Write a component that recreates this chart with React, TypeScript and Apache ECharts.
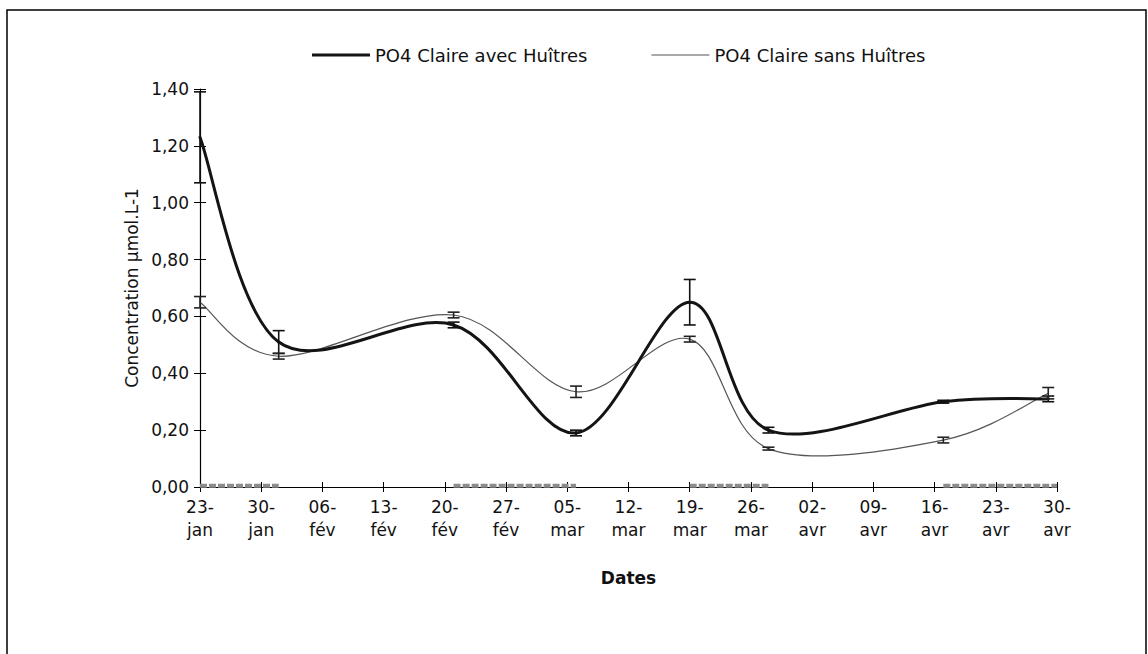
import React, { useEffect, useRef } from "react";
import * as echarts from "echarts";

// Sampling dates (leap year: 27-fév + 7 days = 05-mar)
const sampleDates = [
  "2008-01-23",
  "2008-02-01",
  "2008-02-21",
  "2008-03-06",
  "2008-03-19",
  "2008-03-28",
  "2008-04-17",
  "2008-04-29",
];

// PO4 concentrations (µmol.L-1) and half-width of the error bars
const avecValues = [1.23, 0.51, 0.57, 0.19, 0.65, 0.2, 0.3, 0.31];
const avecErrors = [0.16, 0.04, 0.01, 0.01, 0.08, 0.01, 0.005, 0.01];
const sansValues = [0.65, 0.46, 0.605, 0.335, 0.52, 0.135, 0.165, 0.33];
const sansErrors = [0.02, 0.01, 0.01, 0.02, 0.01, 0.005, 0.01, 0.02];

// Periods marked along the date axis
const periodStarts = ["2008-01-23", "2008-02-21", "2008-03-19", "2008-04-17"];
const periodEnds = ["2008-02-01", "2008-03-06", "2008-03-28", "2008-04-30"];

const xTickLabels = [
  "23-\njan", "30-\njan", "06-\nfév", "13-\nfév", "20-\nfév",
  "27-\nfév", "05-\nmar", "12-\nmar", "19-\nmar", "26-\nmar",
  "02-\navr", "09-\navr", "16-\navr", "23-\navr", "30-\navr",
];

const seriesNames = ["PO4 Claire avec Huîtres", "PO4 Claire sans Huîtres"];

const DAY_MS = 86400000;
const ORIGIN = Date.parse(sampleDates[0]);
const toDay = (s: string) => Math.round((Date.parse(s) - ORIGIN) / DAY_MS);

const FONT = "DejaVu Sans";
const AVEC_COLOR = "#141414";
const SANS_COLOR = "#555555";

// Smoothed curve (Catmull-Rom Bézier segments between successive samples)
function smoothCurve(values: number[], color: string, width: number, z: number) {
  const pts = sampleDates.map((d, i) => [toDay(d), values[i]]);
  const n = pts.length;
  return {
    type: "custom",
    silent: true,
    z,
    data: pts,
    encode: { x: 0, y: 1 },
    renderItem: (params: any, api: any) => {
      const i = params.dataIndex;
      if (i >= n - 1) return { type: "group", children: [] };
      const P = (k: number) => api.coord(pts[Math.max(0, Math.min(n - 1, k))]);
      const p0 = P(i - 1);
      const p1 = P(i);
      const p2 = P(i + 1);
      const p3 = P(i + 2);
      return {
        type: "bezierCurve",
        shape: {
          x1: p1[0],
          y1: p1[1],
          x2: p2[0],
          y2: p2[1],
          cpx1: p1[0] + (p2[0] - p0[0]) / 6,
          cpy1: p1[1] + (p2[1] - p0[1]) / 6,
          cpx2: p2[0] - (p3[0] - p1[0]) / 6,
          cpy2: p2[1] - (p3[1] - p1[1]) / 6,
        },
        style: { stroke: color, lineWidth: width, fill: "none", lineJoin: "round", lineCap: "round" },
      };
    },
  };
}

function errorBars(values: number[], errors: number[], color: string) {
  return {
    type: "custom",
    silent: true,
    z: 5,
    data: sampleDates.map((d, i) => [toDay(d), values[i] - errors[i], values[i] + errors[i]]),
    encode: { x: 0, y: [1, 2] },
    renderItem: (_params: any, api: any) => {
      const x = api.value(0);
      const lo = api.coord([x, api.value(1)]);
      const hi = api.coord([x, api.value(2)]);
      const w = 6;
      const style = { stroke: color, lineWidth: 1.6 };
      return {
        type: "group",
        children: [
          { type: "line", shape: { x1: lo[0], y1: lo[1], x2: hi[0], y2: hi[1] }, style },
          { type: "line", shape: { x1: lo[0] - w, y1: lo[1], x2: lo[0] + w, y2: lo[1] }, style },
          { type: "line", shape: { x1: hi[0] - w, y1: hi[1], x2: hi[0] + w, y2: hi[1] }, style },
        ],
      };
    },
  };
}

export default function App() {
  const ref = useRef<HTMLDivElement>(null);

  useEffect(() => {
    if (!ref.current) return;
    const chart = echarts.init(ref.current, undefined, { renderer: "svg" });

    const periodSeries = periodStarts.map((s, i) => ({
      type: "line",
      silent: true,
      symbol: "none",
      z: 1,
      lineStyle: { color: "#8c8c8c", width: 4, type: [7, 2] },
      data: [
        [toDay(s), 0.004],
        [toDay(periodEnds[i]), 0.004],
      ],
    }));

    const option: any = {
      animation: false,
      backgroundColor: "#ffffff",
      textStyle: { fontFamily: FONT },
      graphic: [
        {
          type: "rect",
          silent: true,
          shape: { x: 7, y: 10, width: 1139, height: 700 },
          style: { fill: "none", stroke: "#000", lineWidth: 1.5 },
        },
      ],
      legend: {
        data: [
          { name: seriesNames[0], icon: "path://M0 0H100V5H0Z" },
          { name: seriesNames[1], icon: "path://M0 0H100V2H0Z" },
        ],
        left: 307,
        top: 41,
        itemWidth: 58,
        itemHeight: 12,
        itemGap: 64,
        textStyle: { fontFamily: FONT, fontSize: 18, color: "#111" },
      },
      grid: { left: 200, top: 89, right: 91, bottom: 167 },
      xAxis: [
        {
          type: "value",
          min: 0,
          max: 98,
          interval: 7,
          name: "Dates",
          nameLocation: "middle",
          nameGap: 82,
          nameTextStyle: { fontFamily: FONT, fontSize: 17, fontWeight: "bold", color: "#111" },
          axisLine: { show: true, onZero: false, lineStyle: { color: "#000", width: 1.2 } },
          axisTick: { show: true, inside: false, length: 5, lineStyle: { color: "#000" } },
          splitLine: { show: false },
          axisLabel: {
            margin: 8,
            fontFamily: FONT,
            fontSize: 17,
            lineHeight: 23,
            color: "#111",
            formatter: (v: number) => xTickLabels[Math.round(v / 7)] ?? "",
          },
        },
        {
          type: "value",
          min: 0,
          max: 98,
          interval: 7,
          position: "bottom",
          axisLine: { show: false },
          axisTick: { show: true, inside: true, length: 5, lineStyle: { color: "#000" } },
          axisLabel: { show: false },
          splitLine: { show: false },
        },
      ],
      yAxis: [
        {
          type: "value",
          min: 0,
          max: 1.4,
          interval: 0.2,
          name: "Concentration µmol.L-1",
          nameLocation: "middle",
          nameGap: 38,
          nameTextStyle: { fontFamily: FONT, fontSize: 17, color: "#111" },
          axisLine: { show: true, lineStyle: { color: "#000", width: 1.2 } },
          axisTick: { show: true, inside: false, length: 6, lineStyle: { color: "#000" } },
          splitLine: { show: false },
          axisLabel: {
            margin: 11,
            fontFamily: FONT,
            fontSize: 17,
            color: "#111",
            formatter: (v: number) => v.toFixed(2).replace(".", ","),
          },
        },
        {
          type: "value",
          min: 0,
          max: 1.4,
          interval: 0.2,
          position: "left",
          axisLine: { show: false },
          axisTick: { show: true, inside: true, length: 6, lineStyle: { color: "#000" } },
          axisLabel: { show: false },
          splitLine: { show: false },
        },
      ],
      series: [
        ...periodSeries,
        // legend entries for the two curves
        { name: seriesNames[0], type: "line", color: AVEC_COLOR, symbol: "none", data: [] },
        { name: seriesNames[1], type: "line", color: SANS_COLOR, symbol: "none", data: [] },
        smoothCurve(sansValues, SANS_COLOR, 1.2, 3),
        smoothCurve(avecValues, AVEC_COLOR, 3, 4),
        errorBars(avecValues, avecErrors, "#111"),
        errorBars(sansValues, sansErrors, "#222"),
      ],
    };

    chart.setOption(option);
    return () => chart.dispose();
  }, []);

  return (
    <div
      ref={ref}
      style={{ position: "fixed", left: 0, top: 0, width: 1148, height: 654, background: "#fff" }}
    />
  );
}
